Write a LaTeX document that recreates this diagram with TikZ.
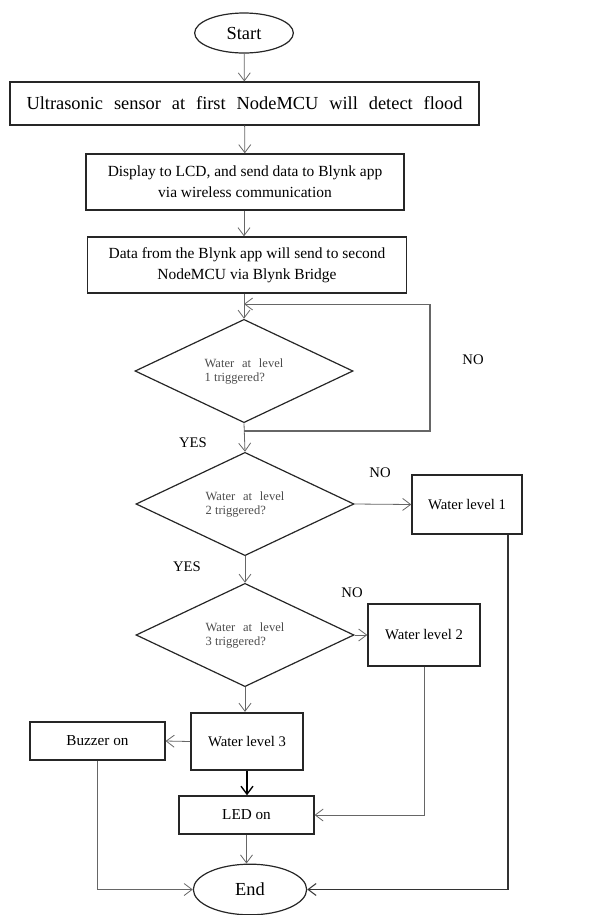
\documentclass[tikz,border=0pt]{standalone}
\usepackage{fontspec}
\setmainfont{Liberation Serif}
\usetikzlibrary{shapes.geometric,arrows.meta}
\begin{document}
\begin{tikzpicture}[x=0.75pt,y=-0.75pt,
  box/.style={draw=black!85,line width=1.1pt,inner sep=0pt,align=center},
  term/.style={draw=black!85,line width=0.9pt,ellipse,inner sep=0pt},
  dec/.style={draw=black!85,line width=0.9pt,diamond,aspect=2.1,inner sep=0pt,
    minimum width=163.5pt,minimum height=77.5pt,text=black!70,
    font=\fontsize{9.4}{10.5}\selectfont,align=left},
  conn/.style={draw=black!60,line width=0.6pt},
  arr/.style={conn,-{Straight Barb[length=6pt,width=9pt]}},
  lab/.style={font=\fontsize{11}{13}\selectfont,inner sep=0pt}]
\useasboundingbox (0,0) rectangle (591,915);
\node[term,minimum width=74pt,minimum height=30pt,font=\fontsize{13.8}{16}\selectfont] (start) at (244,33) {Start};
\node[box,minimum width=352pt,minimum height=32pt,font=\fontsize{13.8}{16}\selectfont] (b1) at (244.5,103.5)
  {\makebox[327pt][s]{Ultrasonic sensor at first NodeMCU will detect flood}};
\node[box,minimum width=238.5pt,minimum height=42pt,font=\fontsize{11.6}{16}\selectfont] (b2) at (245,182)
  {Display to LCD, and send data to Blynk app\\via wireless communication};
\node[box,minimum width=239pt,minimum height=42pt,font=\fontsize{11.6}{16}\selectfont] (b3) at (247,265)
  {Data from the Blynk app will send to second\\NodeMCU via Blynk Bridge};
\node[dec] (d1) at (244,371) {\makebox[59pt][s]{Water at level}\\1 triggered?};
\node[dec] (d2) at (245,504) {\makebox[59pt][s]{Water at level}\\2 triggered?};
\node[dec] (d3) at (245,635) {\makebox[59pt][s]{Water at level}\\3 triggered?};
\node[box,minimum width=82.5pt,minimum height=44pt,font=\fontsize{11}{13}\selectfont] (wl1) at (467,504.5) {Water level 1};
\node[box,minimum width=84pt,minimum height=46.5pt,font=\fontsize{11}{13}\selectfont] (wl2) at (424,635) {Water level 2};
\node[box,line width=1.5pt,minimum width=84pt,minimum height=43pt,font=\fontsize{11}{13}\selectfont] (wl3) at (247,741.5) {Water level 3};
\node[box,minimum width=101pt,minimum height=28.5pt,font=\fontsize{11.4}{13}\selectfont] (buzz) at (97.5,741) {Buzzer on};
\node[box,minimum width=101pt,minimum height=28.5pt,font=\fontsize{11.4}{13}\selectfont] (led) at (246.5,815) {LED on};
\node[term,minimum width=85pt,minimum height=38pt,font=\fontsize{13.8}{16}\selectfont] (end) at (250,889.5) {End};
% labels
\node[lab] (no1) at (473,360) {NO};
\node[lab] (yes1) at (193,443) {YES};
\node[lab] (no2) at (380,473) {NO};
\node[lab] (yes2) at (187,567) {YES};
\node[lab] (no3) at (352,593) {NO};
% connectors
\draw[arr] (start) -- (b1);
\draw[arr] (b1) -- (b2);
\draw[arr] (b2.south -| 244,0) -- (b3.north -| 244,0);
\draw[arr] (b3.south -| 244,0) -- (d1.north);
\coordinate (lb) at (244,431);
\coordinate (lt) at (244,304);
\draw[arr] (d1.south) -- (d2.north);
\draw[conn,line width=0.8pt] (lb) -- (430,431) -- (430,304);
\draw[arr] (430,304) -- (lt);
\draw[arr] (d2.east) -- (wl1.west);
\draw[arr] (d2.south) -- (d3.north);
\draw[arr] (d3.east) -- (wl2.west);
\draw[arr] (d3.south) -- (wl3.north -| d3.south);
\draw[arr] (wl3.west) -- (buzz.east);
\draw[conn,draw=black,line width=1pt,-{Straight Barb[length=6pt,width=9pt]}] (wl3.south) -- (led.north -| wl3.south);
\draw[arr] (wl2.south) |- (led.east);
\draw[arr] (led.south) -- (end.north -| led.south);
\draw[arr] (buzz.south) |- (end.west);
\draw[arr,draw=black!80,line width=0.8pt] (wl1.south -| 508,0) |- (end.east);
\end{tikzpicture}
\end{document}
